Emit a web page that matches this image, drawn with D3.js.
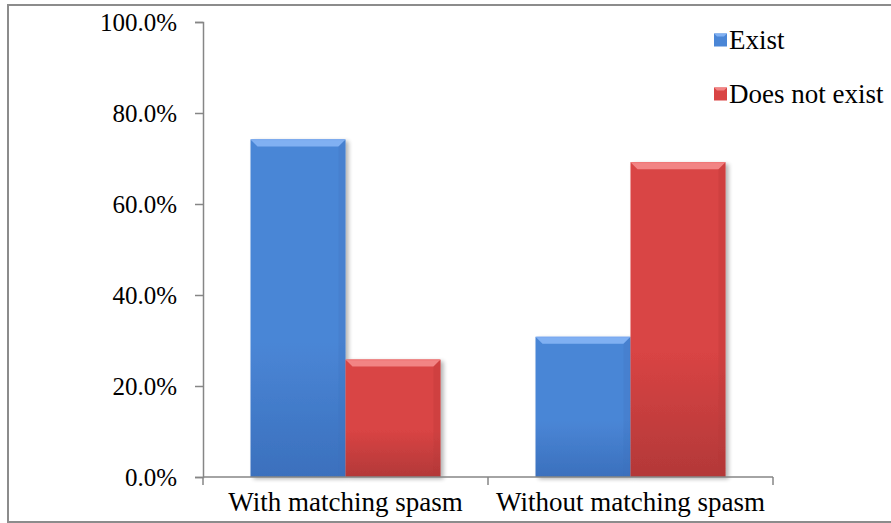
<!DOCTYPE html>
<html>
<head>
<meta charset="utf-8">
<script src="https://cdn.jsdelivr.net/npm/d3@7/dist/d3.min.js"></script>
<style>
  html, body { margin: 0; padding: 0; background: #fff; }
  svg { display: block; }
</style>
</head>
<body>
<svg id="chart" width="891" height="523"></svg>
<script>
// Categories, series and values (percent)
const categories = ["With matching spasm", "Without matching spasm"];
const seriesNames = ["Exist", "Does not exist"];
const existValues = [74.2, 30.8];
const notExistValues = [25.8, 69.2];
const yTicks = [0, 20, 40, 60, 80, 100];

const seriesValues = [existValues, notExistValues];
const FONT = "Liberation Serif";
const TICK_SIZE = "25px";
const LABEL_SIZE = "27px";
const palette = [
  { base: "#4a86d6", light: "#7aaaf0", dark: "#3b70bd", top: "#80b0f2" },
  { base: "#d94444", light: "#f07777", dark: "#b33838", top: "#f28484" }
];

const svg = d3.select("#chart");
const W = 891, H = 523;
const plot = { left: 203, right: 773, top: 22, bottom: 477 };

// Outer frame
svg.append("rect")
  .attr("x", 8).attr("y", 5)
  .attr("width", W + 10).attr("height", H - 6)
  .attr("fill", "none").attr("stroke", "#8c8c8c").attr("stroke-width", 2);

const defs = svg.append("defs");
palette.forEach((p, i) => {
  const g = defs.append("linearGradient").attr("id", "grad" + i)
    .attr("x1", 0).attr("y1", 0).attr("x2", 0).attr("y2", 1);
  g.append("stop").attr("offset", "0%").attr("stop-color", p.base);
  g.append("stop").attr("offset", "60%").attr("stop-color", p.base);
  g.append("stop").attr("offset", "100%").attr("stop-color", p.dark);
});
const shadow = defs.append("filter").attr("id", "shadow")
  .attr("x", "-10%").attr("y", "-10%").attr("width", "130%").attr("height", "130%");
shadow.append("feGaussianBlur").attr("in", "SourceAlpha").attr("stdDeviation", 2).attr("result", "b");
shadow.append("feOffset").attr("in", "b").attr("dx", 3).attr("dy", 2).attr("result", "o");
shadow.append("feComponentTransfer").attr("in", "o").attr("result", "s")
  .append("feFuncA").attr("type", "linear").attr("slope", 0.3);
const merge = shadow.append("feMerge");
merge.append("feMergeNode").attr("in", "s");
merge.append("feMergeNode").attr("in", "SourceGraphic");

// Scales
const x0 = d3.scaleBand().domain(categories)
  .range([plot.left, plot.right])
  .paddingInner(1 / 3).paddingOuter(1 / 6);
const x1 = d3.scaleBand().domain(d3.range(seriesNames.length))
  .range([0, x0.bandwidth()]);
const y = d3.scaleLinear().domain([0, 100]).range([plot.bottom, plot.top]);

// Bars with a bevelled face
const bevel = 7;
categories.forEach((cat, ci) => {
  seriesValues.forEach((vals, si) => {
    const p = palette[si];
    const bx = x0(cat) + x1(si), bw = x1.bandwidth();
    const by = y(vals[ci]), bh = y(0) - by;
    const g = svg.append("g").attr("filter", "url(#shadow)");
    g.append("rect").attr("x", bx).attr("y", by).attr("width", bw).attr("height", bh)
      .attr("fill", `url(#grad${si})`);
    // top bevel
    g.append("polygon")
      .attr("points", [[bx, by], [bx + bw, by], [bx + bw - bevel, by + bevel], [bx + bevel, by + bevel]].join(" "))
      .attr("fill", p.top);
    // right bevel
    g.append("polygon")
      .attr("points", [[bx + bw, by], [bx + bw - bevel, by + bevel], [bx + bw - bevel, by + bh], [bx + bw, by + bh]].join(" "))
      .attr("fill", p.dark).attr("opacity", 0.25);
    // highlight line at the top edge
    g.append("line").attr("x1", bx + 1).attr("x2", bx + bw - 1)
      .attr("y1", by + 0.5).attr("y2", by + 0.5)
      .attr("stroke", p.light).attr("stroke-width", 1);
  });
});

// Y axis
const yAxis = d3.axisLeft(y).tickValues(yTicks)
  .tickFormat(d => d.toFixed(1) + "%").tickSizeOuter(0).tickSize(8).tickPadding(18);
const gy = svg.append("g").attr("transform", `translate(${plot.left},0)`).call(yAxis);
gy.attr("font-family", FONT);
gy.select(".domain").attr("stroke", "#868686").attr("stroke-width", 1.5);
gy.selectAll(".tick line").attr("stroke", "#868686").attr("stroke-width", 1.5);
gy.selectAll(".tick text").style("font-size", TICK_SIZE).style("font-family", FONT).attr("fill", "#000");

// X axis
const xAxis = d3.axisBottom(x0).tickSize(0).tickPadding(15).tickSizeOuter(0);
const gx = svg.append("g").attr("transform", `translate(0,${plot.bottom})`).call(xAxis);
gx.attr("font-family", FONT);
gx.select(".domain").remove();
gx.append("line").attr("x1", plot.left).attr("x2", plot.right)
  .attr("y1", 0).attr("y2", 0).attr("stroke", "#868686").attr("stroke-width", 1.5);
// category boundary ticks
[plot.left, (plot.left + plot.right) / 2, plot.right].forEach(tx => {
  gx.append("line").attr("x1", tx).attr("x2", tx).attr("y1", 0).attr("y2", 8)
    .attr("stroke", "#868686").attr("stroke-width", 1.5);
});
gx.selectAll(".tick text").style("font-size", LABEL_SIZE).style("font-family", FONT).attr("fill", "#000");

// Legend
const legend = svg.append("g").attr("font-family", FONT);
seriesNames.forEach((name, i) => {
  const ly = 40 + i * 54;
  const p = palette[i];
  const s = 13, lx = 714;
  legend.append("rect").attr("x", lx).attr("y", ly - s / 2).attr("width", s).attr("height", s)
    .attr("fill", p.base);
  legend.append("polygon")
    .attr("points", [[lx, ly - s / 2], [lx + s, ly - s / 2], [lx + s - 3, ly - s / 2 + 3], [lx + 3, ly - s / 2 + 3]].join(" "))
    .attr("fill", p.top);
  legend.append("text").attr("x", lx + s + 2).attr("y", ly).attr("dy", "0.35em")
    .style("font-size", LABEL_SIZE).style("font-family", FONT).attr("fill", "#000")
    .text(name);
});
</script>
</body>
</html>
